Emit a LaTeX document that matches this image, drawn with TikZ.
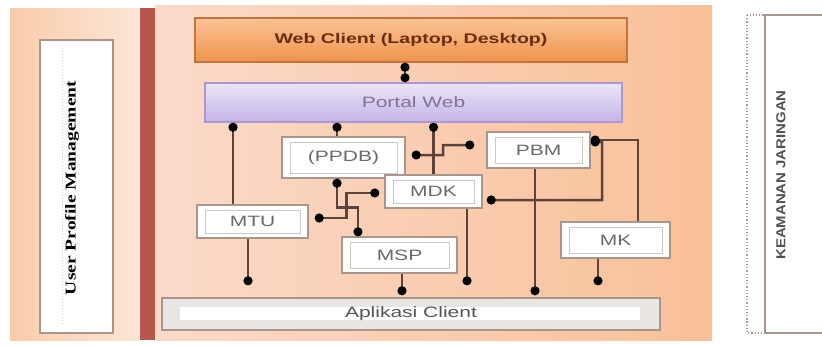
\documentclass[tikz,border=0pt]{standalone}
\usepackage{fontspec}
\setmainfont{Liberation Sans}
\newfontfamily\wsans[FakeStretch=1.4]{Liberation Sans}
\newfontfamily\ksans[FakeStretch=1.15]{Liberation Sans}
\newfontfamily\wserif[FakeStretch=1.3]{Liberation Serif}
\usetikzlibrary{arrows.meta}
\definecolor{peachL}{RGB}{249,204,170}
\definecolor{peachR}{RGB}{252,230,215}
\definecolor{mainL}{RGB}{251,218,202}
\definecolor{mainM}{RGB}{253,231,215}
\definecolor{mainR}{RGB}{249,192,152}
\definecolor{redbar}{RGB}{183,86,76}
\definecolor{webTop}{RGB}{251,196,148}
\definecolor{webBot}{RGB}{240,146,78}
\definecolor{webDraw}{RGB}{196,116,58}
\definecolor{webText}{RGB}{105,45,15}
\definecolor{porTop}{RGB}{236,228,248}
\definecolor{porBot}{RGB}{196,180,230}
\definecolor{porDraw}{RGB}{170,152,208}
\definecolor{porText}{RGB}{130,115,150}
\definecolor{modBorder}{RGB}{168,150,140}
\definecolor{modInner}{RGB}{205,200,198}
\definecolor{modText}{RGB}{105,105,105}
\definecolor{connCol}{RGB}{92,68,58}
\definecolor{appFill}{RGB}{232,229,227}
\tikzset{
  blob/.tip={Circle[length=9bp,color=black]},
  mod/.style={draw=modBorder, line width=1.4bp, fill=white, inner sep=0pt,
    text=modText, font=\wsans\fontsize{15bp}{15bp}\selectfont,
    path picture={\draw[modInner, line width=0.8bp]
      ([shift={(8bp,-5bp)}]path picture bounding box.north west) rectangle
      ([shift={(-8bp,5bp)}]path picture bounding box.south east);}},
  conn/.style={draw=connCol, line width=2.5bp},
  sidebox/.style={draw=modBorder, line width=1.4bp, fill=white, inner sep=0pt}
}
\begin{document}
\begin{tikzpicture}[x=1bp,y=-1bp]
\useasboundingbox (0,0) rectangle (822,345);
\fill[white] (0,0) rectangle (822,345);
% backgrounds
\fill[left color=peachL, right color=peachR] (10,8) rectangle (140,340);
\fill[left color=mainL, middle color=mainM, right color=mainR] (155,5) rectangle (712,340);
\fill[redbar] (140,8) rectangle (155,340);
% user profile management
\node[sidebox, minimum width=73bp, minimum height=293bp] (upm) at (76.5,186.5) {};
\draw[modInner, line width=1bp, dotted] (62,48) -- (62,326);
\node[rotate=90, font=\wserif\bfseries\fontsize{15bp}{15bp}\selectfont, text=black] (upmt) at (72,188) {User Profile Management};
% keamanan jaringan
\draw[modBorder, line width=1.2bp, dotted] (747,15) rectangle (830,333);
\node[draw=modBorder, line width=1.2bp, fill=white, inner sep=0pt, minimum width=60bp, minimum height=318bp] (kj) at (795,174) {};
\node[rotate=90, font=\ksans\bfseries\fontsize{13bp}{13bp}\selectfont, text={rgb,255:red,80;green,80;blue,80}] (kjt) at (781,175) {KEAMANAN JARINGAN};
% top boxes
\node[draw=webDraw, line width=1.5bp, top color=webTop, bottom color=webBot, inner sep=0pt,
  minimum width=432bp, minimum height=44bp, text=webText,
  font=\wsans\bfseries\fontsize{14bp}{14bp}\selectfont] (web) at (411,40) {Web Client (Laptop, Desktop)};
\node[draw=porDraw, line width=1.5bp, top color=porTop, bottom color=porBot, inner sep=0pt,
  minimum width=417bp, minimum height=39bp, text=porText,
  font=\wsans\fontsize{15bp}{15bp}\selectfont] (portal) at (413.5,102.5) {Portal Web};
% modules
\node[mod, minimum width=123bp, minimum height=41bp] (ppdb) at (343.5,157.5) {(PPDB)};
\node[mod, minimum width=103bp, minimum height=36bp] (pbm) at (538.5,150) {PBM};
\node[mod, minimum width=97bp, minimum height=33bp] (mdk) at (433.5,191.5) {MDK};
\node[mod, minimum width=111bp, minimum height=33bp] (mtu) at (252.5,221.5) {MTU};
\node[mod, minimum width=115bp, minimum height=36bp] (msp) at (399.5,255) {MSP};
\node[mod, minimum width=109bp, minimum height=36bp] (mk) at (615.5,240) {MK};
% aplikasi client
\node[draw=modBorder, line width=1.4bp, fill=appFill, inner sep=0pt,
  minimum width=498bp, minimum height=32bp, text={rgb,255:red,85;green,85;blue,85},
  font=\wsans\fontsize{15bp}{15bp}\selectfont,
  path picture={\fill[white] ([shift={(18bp,-9bp)}]path picture bounding box.north west) rectangle
      ([shift={(-20bp,10bp)}]path picture bounding box.south east);}] (app) at (411,314) {Aplikasi Client};
% anchor coordinates
\coordinate (webB) at ([xshift=-6bp]web.south);
\coordinate (mtuT) at ([xshift=-19.5bp]mtu.north);
\coordinate (ppdbT) at ([xshift=-6.5bp]ppdb.north);
\coordinate (ppdbB) at ([xshift=-6.5bp]ppdb.south);
\coordinate (mspT) at ([xshift=-41.5bp]msp.north);
\coordinate (mkT) at ([xshift=22.5bp]mk.north);
\coordinate (mtuB) at ([xshift=-4.5bp]mtu.south);
\coordinate (mspB) at ([xshift=2.5bp]msp.south);
\coordinate (mdkB) at ([xshift=33.5bp]mdk.south);
\coordinate (pbmB) at ([xshift=-3.5bp]pbm.south);
\coordinate (mkB) at ([xshift=-17.5bp]mk.south);
% connectors
\draw[conn, {blob}-{blob}] (webB) -- (webB |- portal.north);
\draw[conn, -{blob}] (mtuT) -- (mtuT |- portal.south);
\draw[conn, -{blob}] (ppdbT) -- (ppdbT |- portal.south);
\draw[conn, -{blob}] (mdk.north) -- (mdk.north |- portal.south);
\draw[conn, {blob}-{blob}, shorten <=6bp, shorten >=12bp]
  ([yshift=2.5bp]ppdb.east) -| (443,145) -- ([yshift=5bp]pbm.west);
\draw[conn, {blob}-{blob}] (ppdbB) -- ++(0,29) -| (mspT);
\draw[conn, {blob}-{blob}, shorten <=5bp, shorten >=6bp]
  ([yshift=-1.5bp]mdk.west) -- ++(-38,0) |- ([yshift=3.5bp]mtu.east);
\draw[conn, {blob}-{blob}, shorten <=4bp]
  ([yshift=-8.5bp]mdk.east) -| (602,142) -- ([yshift=8bp]pbm.east);
\draw[conn, -{blob}] (mkT) |- ([yshift=10bp]pbm.east);
\draw[conn, -{blob}, shorten >=12bp] (mtuB) -- (mtuB |- app.north);
\draw[conn, -{blob}, shorten >=2bp] (mspB) -- (mspB |- app.north);
\draw[conn, -{blob}, shorten >=12bp] (mdkB) -- (mdkB |- app.north);
\draw[conn, -{blob}, shorten >=2bp] (pbmB) -- (pbmB |- app.north);
\draw[conn, -{blob}, shorten >=12bp] (mkB) -- (mkB |- app.north);
\end{tikzpicture}
\end{document}
